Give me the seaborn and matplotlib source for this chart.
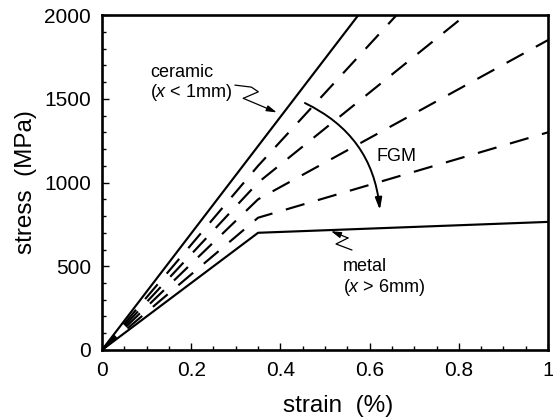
import numpy as np
import pandas as pd
import seaborn as sns
import matplotlib
matplotlib.use("Agg")
import matplotlib.pyplot as plt
from matplotlib.ticker import MultipleLocator

# Bilinear stress-strain curves: value at strain 0, at the knee, and at 1 %
strain = [0.0, 0.35, 1.0]
ceramic = [0.0, 1218.0, 3480.0]
metal = [0.0, 700.0, 765.0]
fgm_1 = [0.0, 1100.0, 2985.0]
fgm_2 = [0.0, 1000.0, 2398.0]
fgm_3 = [0.0, 900.0, 1851.0]
fgm_4 = [0.0, 790.0, 1300.0]

x_ticks = [0, 0.2, 0.4, 0.6, 0.8, 1.0]
x_tick_labels = ["0", "0.2", "0.4", "0.6", "0.8", "1"]
y_ticks = [0, 500, 1000, 1500, 2000]
y_tick_labels = ["0", "500", "1000", "1500", "2000"]

curves = {
    "ceramic": (ceramic, "solid"),
    "metal": (metal, "solid"),
    "fgm1": (fgm_1, "dashed"),
    "fgm2": (fgm_2, "dashed"),
    "fgm3": (fgm_3, "dashed"),
    "fgm4": (fgm_4, "dashed"),
}
rows = []
for name, (vals, kind) in curves.items():
    for s, v in zip(strain, vals):
        rows.append({"strain": s, "stress": v, "curve": name, "kind": kind})
df = pd.DataFrame(rows)

sns.set_style("ticks")
plt.rcParams["font.family"] = ["Liberation Sans", "DejaVu Sans"]
plt.rcParams["mathtext.fontset"] = "custom"
plt.rcParams["mathtext.rm"] = "Liberation Sans"
plt.rcParams["mathtext.it"] = "Liberation Sans:italic"
plt.rcParams["text.color"] = "black"
plt.rcParams["axes.labelcolor"] = "black"
plt.rcParams["xtick.color"] = "black"
plt.rcParams["ytick.color"] = "black"
plt.rcParams["axes.edgecolor"] = "black"

fig = plt.figure(figsize=(5.53, 4.2), dpi=100)
ax = fig.add_axes([0.1844, 0.1667, 0.8066, 0.7973])

sns.lineplot(
    data=df, x="strain", y="stress", hue="curve", style="kind",
    palette={k: "black" for k in curves},
    dashes={"solid": "", "dashed": (9, 6.5)},
    sort=False, estimator=None, legend=False, linewidth=1.55, ax=ax,
)

ax.set_xlim(0, 1)
ax.set_ylim(0, 2000)
ax.set_xticks(x_ticks)
ax.set_xticklabels(x_tick_labels)
ax.set_yticks(y_ticks)
ax.set_yticklabels(y_tick_labels)
ax.xaxis.set_minor_locator(MultipleLocator(0.05))
ax.yaxis.set_minor_locator(MultipleLocator(100))
ax.tick_params(which="both", direction="in", top=False, right=False,
               labelsize=15, pad=8, width=1.0, color="black", labelcolor="black")
ax.tick_params(which="major", length=5)
ax.tick_params(which="minor", length=2.8)
for sp in ax.spines.values():
    sp.set_visible(True)
    sp.set_linewidth(1.9)
    sp.set_color("black")

ax.set_xlabel("strain  (%)", fontsize=17.5, labelpad=1, color="black")
ax.xaxis.set_label_coords(0.53, -0.133)
ax.set_ylabel("stress  (MPa)", fontsize=17.5, labelpad=5, color="black")

# Curve labels
ax.text(0.108, 1632, "ceramic", fontsize=13, ha="left", va="baseline")
ax.text(0.108, 1508, r"($x$ < 1mm)", fontsize=13, ha="left", va="baseline")
ax.text(0.541, 473, "metal", fontsize=13, ha="left", va="baseline")
ax.text(0.541, 348, r"($x$ > 6mm)", fontsize=13, ha="left", va="baseline")
ax.text(0.616, 1130, "FGM", fontsize=13, ha="left", va="baseline")

# Squiggle leaders with arrowheads
ax.plot([0.298, 0.335, 0.3505, 0.3168], [1582, 1570, 1542, 1503], color="black", lw=0.9,
        solid_joinstyle="round", solid_capstyle="round")
ax.annotate("", xy=(0.3917, 1419), xytext=(0.3168, 1503),
            arrowprops=dict(arrowstyle="-|>,head_length=0.6,head_width=0.18",
                            color="black", lw=0.9, shrinkA=0, shrinkB=0,
                            mutation_scale=10))
ax.plot([0.5605, 0.5247, 0.5516], [597, 633, 669], color="black", lw=0.9,
        solid_joinstyle="round", solid_capstyle="round")
ax.annotate("", xy=(0.5135, 710), xytext=(0.5516, 669),
            arrowprops=dict(arrowstyle="-|>,head_length=0.6,head_width=0.18",
                            color="black", lw=0.9, shrinkA=0, shrinkB=0,
                            mutation_scale=10))

# Curved arrow sweeping across the graded-material curves
ax.annotate("", xy=(0.623, 836), xytext=(0.455, 1475),
            arrowprops=dict(arrowstyle="-|>,head_length=0.7,head_width=0.2",
                            connectionstyle="arc3,rad=-0.28",
                            color="black", lw=1.4, shrinkA=0, shrinkB=0,
                            mutation_scale=10))

fig.savefig("out.png", dpi=100)
